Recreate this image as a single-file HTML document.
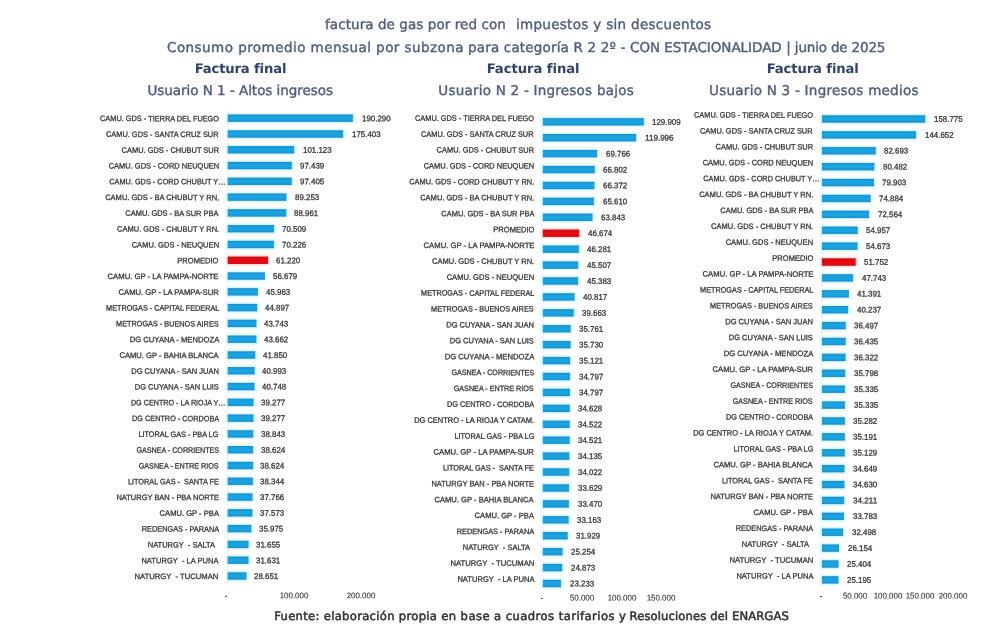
<!DOCTYPE html>
<html lang="es">
<head>
<meta charset="utf-8">
<title>factura de gas por red con impuestos y sin descuentos</title>
<style>
html,body{margin:0;padding:0;background:#fff;}
body{text-rendering:geometricPrecision;width:992px;height:635px;position:relative;overflow:hidden;font-family:"Liberation Sans",sans-serif;}
.t{filter:blur(0.4px);position:absolute;white-space:nowrap;line-height:16px;height:16px;font-family:"DejaVu Sans","Liberation Sans",sans-serif;}
.t span{position:absolute;top:0;}
.h{color:#525d7e;-webkit-text-stroke:0.4px #525d7e;}
.hb{color:#31426c;font-weight:bold;}
.ft{color:#303030;-webkit-text-stroke:0.5px #303030;}
.l{position:absolute;white-space:pre;line-height:10px;height:10px;font-size:7.8px;color:#383838;-webkit-text-stroke:0.3px #383838;text-align:right;transform-origin:100% 50%;}
.v{position:absolute;white-space:pre;line-height:10px;height:10px;font-size:8.2px;color:#383838;-webkit-text-stroke:0.3px #383838;transform-origin:0 50%;}
.a{position:absolute;white-space:pre;line-height:10px;height:10px;font-size:8.2px;color:#383838;-webkit-text-stroke:0.1px #2a2a2a;width:60px;margin-left:-30px;text-align:center;}
.ax{position:absolute;width:1px;background:#f0f7fa;}
.blur{filter:blur(0.45px);}
</style>
</head>
<body>
<div class="t h" id="t1" style="left:0;top:16.7px;font-size:13.5px"><span style="left:325.0px;letter-spacing:0.07px">factura de gas por red con</span> <span style="left:515.9px;letter-spacing:0.31px">impuestos y sin descuentos</span></div>
<div class="t h" id="t2" style="left:0;top:39.7px;font-size:13.5px"><span style="left:167.0px;letter-spacing:0.45px">Consumo promedio mensual por subzona</span> <span style="left:468.0px;letter-spacing:0.17px">para categoría R 2 2º -</span> <span style="left:630.0px;letter-spacing:-0.04px">CON ESTACIONALIDAD</span> <span style="left:786.3px;letter-spacing:-0.17px">| junio de 2025</span></div>
<div class="t hb" id="f1" style="left:0;top:61.5px;font-size:13.2px"><span style="left:194.7px;letter-spacing:-0.16px">Factura final</span></div>
<div class="t hb" id="f2" style="left:0;top:61.5px;font-size:13.2px"><span style="left:486.7px;letter-spacing:-0.07px">Factura final</span></div>
<div class="t hb" id="f3" style="left:0;top:61.5px;font-size:13.2px"><span style="left:766.7px;letter-spacing:-0.13px">Factura final</span></div>
<div class="t h" id="u1" style="left:0;top:83.0px;font-size:13.5px"><span style="left:147.5px;letter-spacing:-0.04px">Usuario N 1 - Altos ingresos</span></div>
<div class="t h" id="u2" style="left:0;top:83.0px;font-size:13.5px"><span style="left:438.3px;letter-spacing:0.23px">Usuario N 2 - Ingresos bajos</span></div>
<div class="t h" id="u3" style="left:0;top:83.0px;font-size:13.5px"><span style="left:709.1px;letter-spacing:0.25px">Usuario N 3 - Ingresos medios</span></div>
<div class="t ft" id="ft" style="left:0;top:608.3px;font-size:11.6px"><span style="left:274.2px;letter-spacing:0.30px">Fuente: elaboración propia en</span> <span style="left:460.6px;letter-spacing:0.43px">base a cuadros tarifarios y</span> <span style="left:629.6px;letter-spacing:0.10px">Resoluciones del ENARGAS</span></div>
<div class="blur">
<div class="ax" style="left:226.5px;top:110.3px;height:473.6px"></div>
<div class="l" style="right:773.2px;top:114px;transform:translateY(0.25px) rotate(0.1deg) scaleX(0.9442)">CAMU. GDS - TIERRA DEL FUEGO</div><div class="v" style="left:362.1px;top:114px;transform:translateY(0.15px) rotate(0.1deg) scaleX(0.9669)">190.290</div>
<div class="l" style="right:773.2px;top:130px;transform:translateY(0.04px) rotate(0.1deg) scaleX(0.9498)">CAMU. GDS - SANTA CRUZ SUR</div><div class="v" style="left:352.3px;top:129px;transform:translateY(0.94px) rotate(0.1deg) scaleX(0.9669)">175.403</div>
<div class="l" style="right:773.2px;top:145px;transform:translateY(0.82px) rotate(0.1deg) scaleX(0.9548)">CAMU. GDS - CHUBUT SUR</div><div class="v" style="left:303.4px;top:145px;transform:translateY(0.72px) rotate(0.1deg) scaleX(0.9669)">101.123</div>
<div class="l" style="right:773.2px;top:161px;transform:translateY(0.61px) rotate(0.1deg) scaleX(0.9595)">CAMU. GDS - CORD NEUQUEN</div><div class="v" style="left:300.0px;top:161px;transform:translateY(0.51px) rotate(0.1deg) scaleX(0.9665)">97.439</div>
<div class="l" style="right:766.9px;top:177px;transform:translateY(0.39px) rotate(0.1deg) scaleX(0.9416)">CAMU. GDS - CORD CHUBUT Y…</div><div class="v" style="left:299.9px;top:177px;transform:translateY(0.29px) rotate(0.1deg) scaleX(0.9665)">97.405</div>
<div class="l" style="right:773.2px;top:193px;transform:translateY(0.18px) rotate(0.1deg) scaleX(0.9648)">CAMU. GDS - BA CHUBUT Y RN.</div><div class="v" style="left:294.5px;top:193px;transform:translateY(0.08px) rotate(0.1deg) scaleX(0.9665)">89.253</div>
<div class="l" style="right:773.2px;top:208px;transform:translateY(0.97px) rotate(0.1deg) scaleX(0.9556)">CAMU. GDS - BA SUR PBA</div><div class="v" style="left:294.3px;top:208px;transform:translateY(0.87px) rotate(0.1deg) scaleX(0.9665)">88.961</div>
<div class="l" style="right:773.2px;top:224px;transform:translateY(0.75px) rotate(0.1deg) scaleX(0.9614)">CAMU. GDS - CHUBUT Y RN.</div><div class="v" style="left:282.1px;top:224px;transform:translateY(0.65px) rotate(0.1deg) scaleX(0.9665)">70.509</div>
<div class="l" style="right:773.2px;top:240px;transform:translateY(0.54px) rotate(0.1deg) scaleX(0.9708)">CAMU. GDS - NEUQUEN</div><div class="v" style="left:281.8px;top:240px;transform:translateY(0.44px) rotate(0.1deg) scaleX(0.9665)">70.226</div>
<div class="l" style="right:773.2px;top:256px;transform:translateY(0.33px) rotate(0.1deg) scaleX(0.9686)">PROMEDIO</div><div class="v" style="left:275.9px;top:256px;transform:translateY(0.23px) rotate(0.1deg) scaleX(0.9665)">61.220</div>
<div class="l" style="right:773.2px;top:272px;transform:translateY(0.11px) rotate(0.1deg) scaleX(0.9861)">CAMU. GP - LA PAMPA-NORTE</div><div class="v" style="left:272.8px;top:272px;transform:translateY(0.01px) rotate(0.1deg) scaleX(0.9665)">56.679</div>
<div class="l" style="right:773.2px;top:287px;transform:translateY(0.90px) rotate(0.1deg) scaleX(0.9857)">CAMU. GP - LA PAMPA-SUR</div><div class="v" style="left:265.7px;top:287px;transform:translateY(0.80px) rotate(0.1deg) scaleX(0.9665)">45.963</div>
<div class="l" style="right:773.2px;top:303px;transform:translateY(0.68px) rotate(0.1deg) scaleX(0.9332)">METROGAS - CAPITAL FEDERAL</div><div class="v" style="left:265.0px;top:303px;transform:translateY(0.58px) rotate(0.1deg) scaleX(0.9665)">44.897</div>
<div class="l" style="right:773.2px;top:319px;transform:translateY(0.47px) rotate(0.1deg) scaleX(0.935)">METROGAS - BUENOS AIRES</div><div class="v" style="left:264.2px;top:319px;transform:translateY(0.37px) rotate(0.1deg) scaleX(0.9665)">43.743</div>
<div class="l" style="right:773.2px;top:335px;transform:translateY(0.26px) rotate(0.1deg) scaleX(0.9815)">DG CUYANA - MENDOZA</div><div class="v" style="left:264.1px;top:335px;transform:translateY(0.16px) rotate(0.1deg) scaleX(0.9665)">43.662</div>
<div class="l" style="right:773.2px;top:351px;transform:translateY(0.04px) rotate(0.1deg) scaleX(0.9765)">CAMU. GP - BAHIA BLANCA</div><div class="v" style="left:262.9px;top:350px;transform:translateY(0.94px) rotate(0.1deg) scaleX(0.9665)">41.850</div>
<div class="l" style="right:773.2px;top:366px;transform:translateY(0.83px) rotate(0.1deg) scaleX(0.9645)">DG CUYANA - SAN JUAN</div><div class="v" style="left:262.3px;top:366px;transform:translateY(0.73px) rotate(0.1deg) scaleX(0.9665)">40.993</div>
<div class="l" style="right:773.2px;top:382px;transform:translateY(0.62px) rotate(0.1deg) scaleX(0.9559)">DG CUYANA - SAN LUIS</div><div class="v" style="left:262.0px;top:382px;transform:translateY(0.52px) rotate(0.1deg) scaleX(0.9665)">40.748</div>
<div class="l" style="right:766.9px;top:398px;transform:translateY(0.40px) rotate(0.1deg) scaleX(0.9228)">DG CENTRO - LA RIOJA Y…</div><div class="v" style="left:261.0px;top:398px;transform:translateY(0.30px) rotate(0.1deg) scaleX(0.9665)">39.277</div>
<div class="l" style="right:773.2px;top:414px;transform:translateY(0.19px) rotate(0.1deg) scaleX(0.9348)">DG CENTRO - CORDOBA</div><div class="v" style="left:261.0px;top:414px;transform:translateY(0.09px) rotate(0.1deg) scaleX(0.9665)">39.277</div>
<div class="l" style="right:773.2px;top:429px;transform:translateY(0.97px) rotate(0.1deg) scaleX(0.9365)">LITORAL GAS - PBA LG</div><div class="v" style="left:260.7px;top:429px;transform:translateY(0.87px) rotate(0.1deg) scaleX(0.9665)">38.843</div>
<div class="l" style="right:773.2px;top:445px;transform:translateY(0.76px) rotate(0.1deg) scaleX(0.9178)">GASNEA - CORRIENTES</div><div class="v" style="left:260.5px;top:445px;transform:translateY(0.66px) rotate(0.1deg) scaleX(0.9665)">38.624</div>
<div class="l" style="right:773.2px;top:461px;transform:translateY(0.55px) rotate(0.1deg) scaleX(0.9228)">GASNEA - ENTRE RIOS</div><div class="v" style="left:260.4px;top:461px;transform:translateY(0.45px) rotate(0.1deg) scaleX(0.9665)">38.624</div>
<div class="l" style="right:773.2px;top:477px;transform:translateY(0.33px) rotate(0.1deg) scaleX(0.9388)">LITORAL GAS -  SANTA FE</div><div class="v" style="left:260.2px;top:477px;transform:translateY(0.23px) rotate(0.1deg) scaleX(0.9665)">38.344</div>
<div class="l" style="right:773.2px;top:493px;transform:translateY(0.12px) rotate(0.1deg) scaleX(0.9583)">NATURGY BAN - PBA NORTE</div><div class="v" style="left:259.8px;top:493px;transform:translateY(0.02px) rotate(0.1deg) scaleX(0.9665)">37.766</div>
<div class="l" style="right:773.2px;top:508px;transform:translateY(0.91px) rotate(0.1deg) scaleX(0.9738)">CAMU. GP - PBA</div><div class="v" style="left:259.6px;top:508px;transform:translateY(0.81px) rotate(0.1deg) scaleX(0.9665)">37.573</div>
<div class="l" style="right:773.2px;top:524px;transform:translateY(0.69px) rotate(0.1deg) scaleX(0.942)">REDENGAS - PARANA</div><div class="v" style="left:258.5px;top:524px;transform:translateY(0.59px) rotate(0.1deg) scaleX(0.9665)">35.975</div>
<div class="l" style="right:777.0px;top:540px;transform:translateY(0.48px) rotate(0.1deg) scaleX(0.9612)">NATURGY  - SALTA</div><div class="v" style="left:255.6px;top:540px;transform:translateY(0.38px) rotate(0.1deg) scaleX(0.9665)">31.655</div>
<div class="l" style="right:773.2px;top:556px;transform:translateY(0.26px) rotate(0.1deg) scaleX(0.9696)">NATURGY  - LA PUNA</div><div class="v" style="left:255.6px;top:556px;transform:translateY(0.16px) rotate(0.1deg) scaleX(0.9665)">31.631</div>
<div class="l" style="right:773.2px;top:572px;transform:translateY(0.05px) rotate(0.1deg) scaleX(0.9838)">NATURGY  - TUCUMAN</div><div class="v" style="left:253.6px;top:571px;transform:translateY(0.95px) rotate(0.1deg) scaleX(0.9665)">28.651</div>
<div class="a" style="left:226.0px;top:591px;transform:translateY(0.25px) rotate(0.1deg) scaleX(1.0501)">-</div>
<div class="a" style="left:294.0px;top:591px;transform:translateY(0.25px) rotate(0.1deg) scaleX(0.9669)">100.000</div>
<div class="a" style="left:360.5px;top:591px;transform:translateY(0.25px) rotate(0.1deg) scaleX(0.9669)">200.000</div>
<div class="ax" style="left:541.7px;top:113.8px;height:477.6px"></div>
<div class="l" style="right:458.0px;top:113px;transform:translateY(0.95px) rotate(0.1deg) scaleX(0.9442)">CAMU. GDS - TIERRA DEL FUEGO</div><div class="v" style="left:652.4px;top:117px;transform:translateY(0.65px) rotate(0.1deg) scaleX(0.9669)">129.909</div>
<div class="l" style="right:458.0px;top:129px;transform:translateY(0.84px) rotate(0.1deg) scaleX(0.9498)">CAMU. GDS - SANTA CRUZ SUR</div><div class="v" style="left:644.7px;top:133px;transform:translateY(0.57px) rotate(0.1deg) scaleX(0.9872)">119.996</div>
<div class="l" style="right:458.0px;top:145px;transform:translateY(0.73px) rotate(0.1deg) scaleX(0.9548)">CAMU. GDS - CHUBUT SUR</div><div class="v" style="left:605.7px;top:149px;transform:translateY(0.49px) rotate(0.1deg) scaleX(0.9665)">69.766</div>
<div class="l" style="right:458.0px;top:161px;transform:translateY(0.62px) rotate(0.1deg) scaleX(0.9595)">CAMU. GDS - CORD NEUQUEN</div><div class="v" style="left:603.4px;top:165px;transform:translateY(0.41px) rotate(0.1deg) scaleX(0.9665)">66.802</div>
<div class="l" style="right:458.0px;top:177px;transform:translateY(0.51px) rotate(0.1deg) scaleX(0.9533)">CAMU. GDS - CORD CHUBUT Y RN.</div><div class="v" style="left:603.1px;top:181px;transform:translateY(0.33px) rotate(0.1deg) scaleX(0.9665)">66.372</div>
<div class="l" style="right:458.0px;top:193px;transform:translateY(0.40px) rotate(0.1deg) scaleX(0.9648)">CAMU. GDS - BA CHUBUT Y RN.</div><div class="v" style="left:602.5px;top:197px;transform:translateY(0.25px) rotate(0.1deg) scaleX(0.9665)">65.610</div>
<div class="l" style="right:458.0px;top:209px;transform:translateY(0.29px) rotate(0.1deg) scaleX(0.9556)">CAMU. GDS - BA SUR PBA</div><div class="v" style="left:601.1px;top:213px;transform:translateY(0.17px) rotate(0.1deg) scaleX(0.9665)">63.843</div>
<div class="l" style="right:458.0px;top:225px;transform:translateY(0.18px) rotate(0.1deg) scaleX(0.9686)">PROMEDIO</div><div class="v" style="left:587.8px;top:229px;transform:translateY(0.09px) rotate(0.1deg) scaleX(0.9665)">46.674</div>
<div class="l" style="right:458.0px;top:241px;transform:translateY(0.07px) rotate(0.1deg) scaleX(0.9861)">CAMU. GP - LA PAMPA-NORTE</div><div class="v" style="left:587.4px;top:245px;transform:translateY(0.02px) rotate(0.1deg) scaleX(0.9665)">46.281</div>
<div class="l" style="right:458.0px;top:256px;transform:translateY(0.96px) rotate(0.1deg) scaleX(0.9614)">CAMU. GDS - CHUBUT Y RN.</div><div class="v" style="left:586.8px;top:260px;transform:translateY(0.94px) rotate(0.1deg) scaleX(0.9665)">45.507</div>
<div class="l" style="right:458.0px;top:272px;transform:translateY(0.85px) rotate(0.1deg) scaleX(0.9708)">CAMU. GDS - NEUQUEN</div><div class="v" style="left:586.7px;top:276px;transform:translateY(0.86px) rotate(0.1deg) scaleX(0.9665)">45.383</div>
<div class="l" style="right:458.0px;top:288px;transform:translateY(0.74px) rotate(0.1deg) scaleX(0.9332)">METROGAS - CAPITAL FEDERAL</div><div class="v" style="left:583.2px;top:292px;transform:translateY(0.78px) rotate(0.1deg) scaleX(0.9665)">40.817</div>
<div class="l" style="right:458.0px;top:304px;transform:translateY(0.63px) rotate(0.1deg) scaleX(0.935)">METROGAS - BUENOS AIRES</div><div class="v" style="left:582.3px;top:308px;transform:translateY(0.70px) rotate(0.1deg) scaleX(0.9665)">39.663</div>
<div class="l" style="right:458.0px;top:320px;transform:translateY(0.52px) rotate(0.1deg) scaleX(0.9645)">DG CUYANA - SAN JUAN</div><div class="v" style="left:579.3px;top:324px;transform:translateY(0.62px) rotate(0.1deg) scaleX(0.9665)">35.761</div>
<div class="l" style="right:458.0px;top:336px;transform:translateY(0.41px) rotate(0.1deg) scaleX(0.9559)">DG CUYANA - SAN LUIS</div><div class="v" style="left:579.3px;top:340px;transform:translateY(0.54px) rotate(0.1deg) scaleX(0.9665)">35.730</div>
<div class="l" style="right:458.0px;top:352px;transform:translateY(0.29px) rotate(0.1deg) scaleX(0.9815)">DG CUYANA - MENDOZA</div><div class="v" style="left:578.8px;top:356px;transform:translateY(0.46px) rotate(0.1deg) scaleX(0.9665)">35.121</div>
<div class="l" style="right:458.0px;top:368px;transform:translateY(0.18px) rotate(0.1deg) scaleX(0.9178)">GASNEA - CORRIENTES</div><div class="v" style="left:578.5px;top:372px;transform:translateY(0.38px) rotate(0.1deg) scaleX(0.9665)">34.797</div>
<div class="l" style="right:458.0px;top:384px;transform:translateY(0.07px) rotate(0.1deg) scaleX(0.9228)">GASNEA - ENTRE RIOS</div><div class="v" style="left:578.5px;top:388px;transform:translateY(0.30px) rotate(0.1deg) scaleX(0.9665)">34.797</div>
<div class="l" style="right:458.0px;top:399px;transform:translateY(0.96px) rotate(0.1deg) scaleX(0.9348)">DG CENTRO - CORDOBA</div><div class="v" style="left:578.4px;top:404px;transform:translateY(0.22px) rotate(0.1deg) scaleX(0.9665)">34.628</div>
<div class="l" style="right:458.0px;top:415px;transform:translateY(0.85px) rotate(0.1deg) scaleX(0.9585)">DG CENTRO - LA RIOJA Y CATAM.</div><div class="v" style="left:578.3px;top:420px;transform:translateY(0.14px) rotate(0.1deg) scaleX(0.9665)">34.522</div>
<div class="l" style="right:458.0px;top:431px;transform:translateY(0.74px) rotate(0.1deg) scaleX(0.9365)">LITORAL GAS - PBA LG</div><div class="v" style="left:578.3px;top:436px;transform:translateY(0.06px) rotate(0.1deg) scaleX(0.9665)">34.521</div>
<div class="l" style="right:458.0px;top:447px;transform:translateY(0.63px) rotate(0.1deg) scaleX(0.9857)">CAMU. GP - LA PAMPA-SUR</div><div class="v" style="left:578.0px;top:451px;transform:translateY(0.98px) rotate(0.1deg) scaleX(0.9665)">34.135</div>
<div class="l" style="right:458.0px;top:463px;transform:translateY(0.52px) rotate(0.1deg) scaleX(0.9388)">LITORAL GAS -  SANTA FE</div><div class="v" style="left:577.9px;top:467px;transform:translateY(0.91px) rotate(0.1deg) scaleX(0.9665)">34.022</div>
<div class="l" style="right:458.0px;top:479px;transform:translateY(0.41px) rotate(0.1deg) scaleX(0.9583)">NATURGY BAN - PBA NORTE</div><div class="v" style="left:577.6px;top:483px;transform:translateY(0.83px) rotate(0.1deg) scaleX(0.9665)">33.629</div>
<div class="l" style="right:458.0px;top:495px;transform:translateY(0.30px) rotate(0.1deg) scaleX(0.9765)">CAMU. GP - BAHIA BLANCA</div><div class="v" style="left:577.5px;top:499px;transform:translateY(0.75px) rotate(0.1deg) scaleX(0.9665)">33.470</div>
<div class="l" style="right:458.0px;top:511px;transform:translateY(0.19px) rotate(0.1deg) scaleX(0.9738)">CAMU. GP - PBA</div><div class="v" style="left:577.3px;top:515px;transform:translateY(0.67px) rotate(0.1deg) scaleX(0.9665)">33.163</div>
<div class="l" style="right:458.0px;top:527px;transform:translateY(0.08px) rotate(0.1deg) scaleX(0.942)">REDENGAS - PARANA</div><div class="v" style="left:576.3px;top:531px;transform:translateY(0.59px) rotate(0.1deg) scaleX(0.9665)">31.929</div>
<div class="l" style="right:461.8px;top:542px;transform:translateY(0.97px) rotate(0.1deg) scaleX(0.9612)">NATURGY  - SALTA</div><div class="v" style="left:571.1px;top:547px;transform:translateY(0.51px) rotate(0.1deg) scaleX(0.9665)">25.254</div>
<div class="l" style="right:458.0px;top:558px;transform:translateY(0.86px) rotate(0.1deg) scaleX(0.9838)">NATURGY  - TUCUMAN</div><div class="v" style="left:570.8px;top:563px;transform:translateY(0.43px) rotate(0.1deg) scaleX(0.9665)">24.873</div>
<div class="l" style="right:458.0px;top:574px;transform:translateY(0.75px) rotate(0.1deg) scaleX(0.9696)">NATURGY  - LA PUNA</div><div class="v" style="left:569.5px;top:579px;transform:translateY(0.35px) rotate(0.1deg) scaleX(0.9665)">23.233</div>
<div class="a" style="left:542.0px;top:593px;transform:translateY(0.45px) rotate(0.1deg) scaleX(1.0501)">-</div>
<div class="a" style="left:582.0px;top:593px;transform:translateY(0.45px) rotate(0.1deg) scaleX(0.9665)">50.000</div>
<div class="a" style="left:621.5px;top:593px;transform:translateY(0.45px) rotate(0.1deg) scaleX(0.9669)">100.000</div>
<div class="a" style="left:660.8px;top:593px;transform:translateY(0.45px) rotate(0.1deg) scaleX(0.9669)">150.000</div>
<div class="ax" style="left:820.8px;top:111.1px;height:476.8px"></div>
<div class="l" style="right:179.0px;top:110px;transform:translateY(0.75px) rotate(0.1deg) scaleX(0.9442)">CAMU. GDS - TIERRA DEL FUEGO</div><div class="v" style="left:934.3px;top:114px;transform:translateY(0.75px) rotate(0.1deg) scaleX(0.9669)">158.775</div>
<div class="l" style="right:179.0px;top:126px;transform:translateY(0.64px) rotate(0.1deg) scaleX(0.9498)">CAMU. GDS - SANTA CRUZ SUR</div><div class="v" style="left:925.1px;top:130px;transform:translateY(0.64px) rotate(0.1deg) scaleX(0.9669)">144.652</div>
<div class="l" style="right:179.0px;top:142px;transform:translateY(0.54px) rotate(0.1deg) scaleX(0.9548)">CAMU. GDS - CHUBUT SUR</div><div class="v" style="left:884.2px;top:146px;transform:translateY(0.54px) rotate(0.1deg) scaleX(0.9665)">82.693</div>
<div class="l" style="right:179.0px;top:158px;transform:translateY(0.43px) rotate(0.1deg) scaleX(0.9595)">CAMU. GDS - CORD NEUQUEN</div><div class="v" style="left:882.8px;top:162px;transform:translateY(0.43px) rotate(0.1deg) scaleX(0.9665)">80.482</div>
<div class="l" style="right:172.7px;top:174px;transform:translateY(0.32px) rotate(0.1deg) scaleX(0.9416)">CAMU. GDS - CORD CHUBUT Y…</div><div class="v" style="left:882.4px;top:178px;transform:translateY(0.32px) rotate(0.1deg) scaleX(0.9665)">79.903</div>
<div class="l" style="right:179.0px;top:190px;transform:translateY(0.22px) rotate(0.1deg) scaleX(0.9648)">CAMU. GDS - BA CHUBUT Y RN.</div><div class="v" style="left:879.2px;top:194px;transform:translateY(0.22px) rotate(0.1deg) scaleX(0.9665)">74.884</div>
<div class="l" style="right:179.0px;top:206px;transform:translateY(0.11px) rotate(0.1deg) scaleX(0.9556)">CAMU. GDS - BA SUR PBA</div><div class="v" style="left:877.7px;top:210px;transform:translateY(0.11px) rotate(0.1deg) scaleX(0.9665)">72.564</div>
<div class="l" style="right:179.0px;top:222px;transform:translateY(0.00px) rotate(0.1deg) scaleX(0.9614)">CAMU. GDS - CHUBUT Y RN.</div><div class="v" style="left:866.2px;top:226px;transform:translateY(0.00px) rotate(0.1deg) scaleX(0.9665)">54.957</div>
<div class="l" style="right:179.0px;top:237px;transform:translateY(0.89px) rotate(0.1deg) scaleX(0.9708)">CAMU. GDS - NEUQUEN</div><div class="v" style="left:866.0px;top:241px;transform:translateY(0.89px) rotate(0.1deg) scaleX(0.9665)">54.673</div>
<div class="l" style="right:179.0px;top:253px;transform:translateY(0.79px) rotate(0.1deg) scaleX(0.9686)">PROMEDIO</div><div class="v" style="left:864.1px;top:257px;transform:translateY(0.79px) rotate(0.1deg) scaleX(0.9665)">51.752</div>
<div class="l" style="right:179.0px;top:269px;transform:translateY(0.68px) rotate(0.1deg) scaleX(0.9861)">CAMU. GP - LA PAMPA-NORTE</div><div class="v" style="left:861.5px;top:273px;transform:translateY(0.68px) rotate(0.1deg) scaleX(0.9665)">47.743</div>
<div class="l" style="right:179.0px;top:285px;transform:translateY(0.57px) rotate(0.1deg) scaleX(0.9332)">METROGAS - CAPITAL FEDERAL</div><div class="v" style="left:857.4px;top:289px;transform:translateY(0.57px) rotate(0.1deg) scaleX(0.9665)">41.391</div>
<div class="l" style="right:179.0px;top:301px;transform:translateY(0.47px) rotate(0.1deg) scaleX(0.935)">METROGAS - BUENOS AIRES</div><div class="v" style="left:856.7px;top:305px;transform:translateY(0.47px) rotate(0.1deg) scaleX(0.9665)">40.237</div>
<div class="l" style="right:179.0px;top:317px;transform:translateY(0.36px) rotate(0.1deg) scaleX(0.9645)">DG CUYANA - SAN JUAN</div><div class="v" style="left:854.2px;top:321px;transform:translateY(0.36px) rotate(0.1deg) scaleX(0.9665)">36.497</div>
<div class="l" style="right:179.0px;top:333px;transform:translateY(0.25px) rotate(0.1deg) scaleX(0.9559)">DG CUYANA - SAN LUIS</div><div class="v" style="left:854.2px;top:337px;transform:translateY(0.25px) rotate(0.1deg) scaleX(0.9665)">36.435</div>
<div class="l" style="right:179.0px;top:349px;transform:translateY(0.15px) rotate(0.1deg) scaleX(0.9815)">DG CUYANA - MENDOZA</div><div class="v" style="left:854.1px;top:353px;transform:translateY(0.15px) rotate(0.1deg) scaleX(0.9665)">36.322</div>
<div class="l" style="right:179.0px;top:365px;transform:translateY(0.04px) rotate(0.1deg) scaleX(0.9857)">CAMU. GP - LA PAMPA-SUR</div><div class="v" style="left:853.8px;top:369px;transform:translateY(0.04px) rotate(0.1deg) scaleX(0.9665)">35.798</div>
<div class="l" style="right:179.0px;top:380px;transform:translateY(0.93px) rotate(0.1deg) scaleX(0.9178)">GASNEA - CORRIENTES</div><div class="v" style="left:853.5px;top:384px;transform:translateY(0.93px) rotate(0.1deg) scaleX(0.9665)">35.335</div>
<div class="l" style="right:179.0px;top:396px;transform:translateY(0.83px) rotate(0.1deg) scaleX(0.9228)">GASNEA - ENTRE RIOS</div><div class="v" style="left:853.5px;top:400px;transform:translateY(0.83px) rotate(0.1deg) scaleX(0.9665)">35.335</div>
<div class="l" style="right:179.0px;top:412px;transform:translateY(0.72px) rotate(0.1deg) scaleX(0.9348)">DG CENTRO - CORDOBA</div><div class="v" style="left:853.4px;top:416px;transform:translateY(0.72px) rotate(0.1deg) scaleX(0.9665)">35.282</div>
<div class="l" style="right:179.0px;top:428px;transform:translateY(0.61px) rotate(0.1deg) scaleX(0.9585)">DG CENTRO - LA RIOJA Y CATAM.</div><div class="v" style="left:853.4px;top:432px;transform:translateY(0.61px) rotate(0.1deg) scaleX(0.9665)">35.191</div>
<div class="l" style="right:179.0px;top:444px;transform:translateY(0.51px) rotate(0.1deg) scaleX(0.9365)">LITORAL GAS - PBA LG</div><div class="v" style="left:853.3px;top:448px;transform:translateY(0.51px) rotate(0.1deg) scaleX(0.9665)">35.129</div>
<div class="l" style="right:179.0px;top:460px;transform:translateY(0.40px) rotate(0.1deg) scaleX(0.9765)">CAMU. GP - BAHIA BLANCA</div><div class="v" style="left:853.0px;top:464px;transform:translateY(0.40px) rotate(0.1deg) scaleX(0.9665)">34.649</div>
<div class="l" style="right:179.0px;top:476px;transform:translateY(0.29px) rotate(0.1deg) scaleX(0.9388)">LITORAL GAS -  SANTA FE</div><div class="v" style="left:853.0px;top:480px;transform:translateY(0.29px) rotate(0.1deg) scaleX(0.9665)">34.630</div>
<div class="l" style="right:179.0px;top:492px;transform:translateY(0.18px) rotate(0.1deg) scaleX(0.9583)">NATURGY BAN - PBA NORTE</div><div class="v" style="left:852.7px;top:496px;transform:translateY(0.18px) rotate(0.1deg) scaleX(0.9905)">34.211</div>
<div class="l" style="right:179.0px;top:508px;transform:translateY(0.08px) rotate(0.1deg) scaleX(0.9738)">CAMU. GP - PBA</div><div class="v" style="left:852.5px;top:512px;transform:translateY(0.08px) rotate(0.1deg) scaleX(0.9665)">33.783</div>
<div class="l" style="right:179.0px;top:523px;transform:translateY(0.97px) rotate(0.1deg) scaleX(0.942)">REDENGAS - PARANA</div><div class="v" style="left:851.6px;top:527px;transform:translateY(0.97px) rotate(0.1deg) scaleX(0.9665)">32.498</div>
<div class="l" style="right:182.8px;top:539px;transform:translateY(0.86px) rotate(0.1deg) scaleX(0.9612)">NATURGY  - SALTA</div><div class="v" style="left:847.5px;top:543px;transform:translateY(0.86px) rotate(0.1deg) scaleX(0.9665)">26.154</div>
<div class="l" style="right:179.0px;top:555px;transform:translateY(0.76px) rotate(0.1deg) scaleX(0.9838)">NATURGY  - TUCUMAN</div><div class="v" style="left:847.0px;top:559px;transform:translateY(0.76px) rotate(0.1deg) scaleX(0.9665)">25.404</div>
<div class="l" style="right:179.0px;top:571px;transform:translateY(0.65px) rotate(0.1deg) scaleX(0.9696)">NATURGY  - LA PUNA</div><div class="v" style="left:846.9px;top:575px;transform:translateY(0.65px) rotate(0.1deg) scaleX(0.9665)">25.195</div>
<div class="a" style="left:821.0px;top:591px;transform:translateY(0.55px) rotate(0.1deg) scaleX(1.0501)">-</div>
<div class="a" style="left:855.2px;top:591px;transform:translateY(0.55px) rotate(0.1deg) scaleX(0.9665)">50.000</div>
<div class="a" style="left:888.0px;top:591px;transform:translateY(0.55px) rotate(0.1deg) scaleX(0.9669)">100.000</div>
<div class="a" style="left:920.4px;top:591px;transform:translateY(0.55px) rotate(0.1deg) scaleX(0.9669)">150.000</div>
<div class="a" style="left:952.6px;top:591px;transform:translateY(0.55px) rotate(0.1deg) scaleX(0.9669)">200.000</div>
<svg width="992" height="635" viewBox="0 0 992 635" style="position:absolute;left:0;top:0"><defs><linearGradient id="gb" x1="0" y1="0" x2="0" y2="1"><stop offset="0" stop-color="#1d8dc9"/><stop offset=".35" stop-color="#18a4e1"/><stop offset=".65" stop-color="#18a4e1"/><stop offset="1" stop-color="#1d8dc9"/></linearGradient><linearGradient id="gr" x1="0" y1="0" x2="0" y2="1"><stop offset="0" stop-color="#c90f14"/><stop offset=".35" stop-color="#e6090f"/><stop offset=".65" stop-color="#e6090f"/><stop offset="1" stop-color="#cf0e13"/></linearGradient><filter id="halo" x="-5%" y="-5%" width="110%" height="110%"><feGaussianBlur stdDeviation="1.3"/></filter></defs>
<g filter="url(#halo)" opacity=".65"><rect x="226.50" y="113.30" width="127.60" height="9.80" fill="#a6e8ff"/><rect x="226.50" y="129.09" width="117.81" height="9.80" fill="#a6e8ff"/><rect x="226.50" y="144.87" width="68.93" height="9.80" fill="#a6e8ff"/><rect x="226.50" y="160.66" width="66.51" height="9.80" fill="#a6e8ff"/><rect x="226.50" y="176.44" width="66.49" height="9.80" fill="#a6e8ff"/><rect x="226.50" y="192.23" width="61.12" height="9.80" fill="#a6e8ff"/><rect x="226.50" y="208.02" width="60.93" height="9.80" fill="#a6e8ff"/><rect x="226.50" y="223.80" width="48.79" height="9.80" fill="#a6e8ff"/><rect x="226.50" y="239.59" width="48.60" height="9.80" fill="#a6e8ff"/><rect x="226.50" y="255.38" width="42.68" height="9.80" fill="#ffb0b0"/><rect x="226.50" y="271.16" width="39.69" height="9.80" fill="#a6e8ff"/><rect x="226.50" y="286.95" width="32.64" height="9.80" fill="#a6e8ff"/><rect x="226.50" y="302.73" width="31.94" height="9.80" fill="#a6e8ff"/><rect x="226.50" y="318.52" width="31.18" height="9.80" fill="#a6e8ff"/><rect x="226.50" y="334.31" width="31.13" height="9.80" fill="#a6e8ff"/><rect x="226.50" y="350.09" width="29.93" height="9.80" fill="#a6e8ff"/><rect x="226.50" y="365.88" width="29.37" height="9.80" fill="#a6e8ff"/><rect x="226.50" y="381.67" width="29.21" height="9.80" fill="#a6e8ff"/><rect x="226.50" y="397.45" width="28.24" height="9.80" fill="#a6e8ff"/><rect x="226.50" y="413.24" width="28.24" height="9.80" fill="#a6e8ff"/><rect x="226.50" y="429.02" width="27.96" height="9.80" fill="#a6e8ff"/><rect x="226.50" y="444.81" width="27.81" height="9.80" fill="#a6e8ff"/><rect x="226.50" y="460.60" width="27.81" height="9.80" fill="#a6e8ff"/><rect x="226.50" y="476.38" width="27.63" height="9.80" fill="#a6e8ff"/><rect x="226.50" y="492.17" width="27.25" height="9.80" fill="#a6e8ff"/><rect x="226.50" y="507.96" width="27.12" height="9.80" fill="#a6e8ff"/><rect x="226.50" y="523.74" width="26.07" height="9.80" fill="#a6e8ff"/><rect x="226.50" y="539.53" width="23.23" height="9.80" fill="#a6e8ff"/><rect x="226.50" y="555.31" width="23.21" height="9.80" fill="#a6e8ff"/><rect x="226.50" y="571.10" width="21.25" height="9.80" fill="#a6e8ff"/><rect x="541.70" y="116.90" width="103.30" height="9.80" fill="#a6e8ff"/><rect x="541.70" y="132.82" width="95.60" height="9.80" fill="#a6e8ff"/><rect x="541.70" y="148.74" width="56.59" height="9.80" fill="#a6e8ff"/><rect x="541.70" y="164.66" width="54.28" height="9.80" fill="#a6e8ff"/><rect x="541.70" y="180.58" width="53.95" height="9.80" fill="#a6e8ff"/><rect x="541.70" y="196.50" width="53.36" height="9.80" fill="#a6e8ff"/><rect x="541.70" y="212.42" width="51.99" height="9.80" fill="#a6e8ff"/><rect x="541.70" y="228.34" width="38.65" height="9.80" fill="#ffb0b0"/><rect x="541.70" y="244.27" width="38.35" height="9.80" fill="#a6e8ff"/><rect x="541.70" y="260.19" width="37.75" height="9.80" fill="#a6e8ff"/><rect x="541.70" y="276.11" width="37.65" height="9.80" fill="#a6e8ff"/><rect x="541.70" y="292.03" width="34.10" height="9.80" fill="#a6e8ff"/><rect x="541.70" y="307.95" width="33.21" height="9.80" fill="#a6e8ff"/><rect x="541.70" y="323.87" width="30.18" height="9.80" fill="#a6e8ff"/><rect x="541.70" y="339.79" width="30.15" height="9.80" fill="#a6e8ff"/><rect x="541.70" y="355.71" width="29.68" height="9.80" fill="#a6e8ff"/><rect x="541.70" y="371.63" width="29.43" height="9.80" fill="#a6e8ff"/><rect x="541.70" y="387.55" width="29.43" height="9.80" fill="#a6e8ff"/><rect x="541.70" y="403.47" width="29.30" height="9.80" fill="#a6e8ff"/><rect x="541.70" y="419.39" width="29.21" height="9.80" fill="#a6e8ff"/><rect x="541.70" y="435.31" width="29.21" height="9.80" fill="#a6e8ff"/><rect x="541.70" y="451.23" width="28.91" height="9.80" fill="#a6e8ff"/><rect x="541.70" y="467.16" width="28.82" height="9.80" fill="#a6e8ff"/><rect x="541.70" y="483.08" width="28.52" height="9.80" fill="#a6e8ff"/><rect x="541.70" y="499.00" width="28.40" height="9.80" fill="#a6e8ff"/><rect x="541.70" y="514.92" width="28.16" height="9.80" fill="#a6e8ff"/><rect x="541.70" y="530.84" width="27.20" height="9.80" fill="#a6e8ff"/><rect x="541.70" y="546.76" width="22.01" height="9.80" fill="#a6e8ff"/><rect x="541.70" y="562.68" width="21.72" height="9.80" fill="#a6e8ff"/><rect x="541.70" y="578.60" width="20.45" height="9.80" fill="#a6e8ff"/><rect x="820.80" y="114.10" width="105.60" height="9.80" fill="#a6e8ff"/><rect x="820.80" y="129.99" width="96.42" height="9.80" fill="#a6e8ff"/><rect x="820.80" y="145.89" width="56.15" height="9.80" fill="#a6e8ff"/><rect x="820.80" y="161.78" width="54.71" height="9.80" fill="#a6e8ff"/><rect x="820.80" y="177.67" width="54.34" height="9.80" fill="#a6e8ff"/><rect x="820.80" y="193.57" width="51.07" height="9.80" fill="#a6e8ff"/><rect x="820.80" y="209.46" width="49.56" height="9.80" fill="#a6e8ff"/><rect x="820.80" y="225.35" width="38.12" height="9.80" fill="#a6e8ff"/><rect x="820.80" y="241.24" width="37.94" height="9.80" fill="#a6e8ff"/><rect x="820.80" y="257.14" width="36.04" height="9.80" fill="#ffb0b0"/><rect x="820.80" y="273.03" width="33.43" height="9.80" fill="#a6e8ff"/><rect x="820.80" y="288.92" width="29.30" height="9.80" fill="#a6e8ff"/><rect x="820.80" y="304.82" width="28.55" height="9.80" fill="#a6e8ff"/><rect x="820.80" y="320.71" width="26.12" height="9.80" fill="#a6e8ff"/><rect x="820.80" y="336.60" width="26.08" height="9.80" fill="#a6e8ff"/><rect x="820.80" y="352.50" width="26.01" height="9.80" fill="#a6e8ff"/><rect x="820.80" y="368.39" width="25.67" height="9.80" fill="#a6e8ff"/><rect x="820.80" y="384.28" width="25.37" height="9.80" fill="#a6e8ff"/><rect x="820.80" y="400.18" width="25.37" height="9.80" fill="#a6e8ff"/><rect x="820.80" y="416.07" width="25.33" height="9.80" fill="#a6e8ff"/><rect x="820.80" y="431.96" width="25.27" height="9.80" fill="#a6e8ff"/><rect x="820.80" y="447.86" width="25.23" height="9.80" fill="#a6e8ff"/><rect x="820.80" y="463.75" width="24.92" height="9.80" fill="#a6e8ff"/><rect x="820.80" y="479.64" width="24.91" height="9.80" fill="#a6e8ff"/><rect x="820.80" y="495.53" width="24.64" height="9.80" fill="#a6e8ff"/><rect x="820.80" y="511.43" width="24.36" height="9.80" fill="#a6e8ff"/><rect x="820.80" y="527.32" width="23.52" height="9.80" fill="#a6e8ff"/><rect x="820.80" y="543.21" width="19.40" height="9.80" fill="#a6e8ff"/><rect x="820.80" y="559.11" width="18.91" height="9.80" fill="#a6e8ff"/><rect x="820.80" y="575.00" width="18.78" height="9.80" fill="#a6e8ff"/></g>
<g><rect x="227.70" y="114.50" width="125.20" height="7.40" fill="url(#gb)"/>
<rect x="227.70" y="130.29" width="115.41" height="7.40" fill="url(#gb)"/>
<rect x="227.70" y="146.07" width="66.53" height="7.40" fill="url(#gb)"/>
<rect x="227.70" y="161.86" width="64.11" height="7.40" fill="url(#gb)"/>
<rect x="227.70" y="177.64" width="64.09" height="7.40" fill="url(#gb)"/>
<rect x="227.70" y="193.43" width="58.72" height="7.40" fill="url(#gb)"/>
<rect x="227.70" y="209.22" width="58.53" height="7.40" fill="url(#gb)"/>
<rect x="227.70" y="225.00" width="46.39" height="7.40" fill="url(#gb)"/>
<rect x="227.70" y="240.79" width="46.20" height="7.40" fill="url(#gb)"/>
<rect x="227.70" y="256.58" width="40.28" height="7.40" fill="url(#gr)"/>
<rect x="227.70" y="272.36" width="37.29" height="7.40" fill="url(#gb)"/>
<rect x="227.70" y="288.15" width="30.24" height="7.40" fill="url(#gb)"/>
<rect x="227.70" y="303.93" width="29.54" height="7.40" fill="url(#gb)"/>
<rect x="227.70" y="319.72" width="28.78" height="7.40" fill="url(#gb)"/>
<rect x="227.70" y="335.51" width="28.73" height="7.40" fill="url(#gb)"/>
<rect x="227.70" y="351.29" width="27.53" height="7.40" fill="url(#gb)"/>
<rect x="227.70" y="367.08" width="26.97" height="7.40" fill="url(#gb)"/>
<rect x="227.70" y="382.87" width="26.81" height="7.40" fill="url(#gb)"/>
<rect x="227.70" y="398.65" width="25.84" height="7.40" fill="url(#gb)"/>
<rect x="227.70" y="414.44" width="25.84" height="7.40" fill="url(#gb)"/>
<rect x="227.70" y="430.22" width="25.56" height="7.40" fill="url(#gb)"/>
<rect x="227.70" y="446.01" width="25.41" height="7.40" fill="url(#gb)"/>
<rect x="227.70" y="461.80" width="25.41" height="7.40" fill="url(#gb)"/>
<rect x="227.70" y="477.58" width="25.23" height="7.40" fill="url(#gb)"/>
<rect x="227.70" y="493.37" width="24.85" height="7.40" fill="url(#gb)"/>
<rect x="227.70" y="509.16" width="24.72" height="7.40" fill="url(#gb)"/>
<rect x="227.70" y="524.94" width="23.67" height="7.40" fill="url(#gb)"/>
<rect x="227.70" y="540.73" width="20.83" height="7.40" fill="url(#gb)"/>
<rect x="227.70" y="556.51" width="20.81" height="7.40" fill="url(#gb)"/>
<rect x="227.70" y="572.30" width="18.85" height="7.40" fill="url(#gb)"/>
<rect x="542.90" y="118.10" width="100.90" height="7.40" fill="url(#gb)"/>
<rect x="542.90" y="134.02" width="93.20" height="7.40" fill="url(#gb)"/>
<rect x="542.90" y="149.94" width="54.19" height="7.40" fill="url(#gb)"/>
<rect x="542.90" y="165.86" width="51.88" height="7.40" fill="url(#gb)"/>
<rect x="542.90" y="181.78" width="51.55" height="7.40" fill="url(#gb)"/>
<rect x="542.90" y="197.70" width="50.96" height="7.40" fill="url(#gb)"/>
<rect x="542.90" y="213.62" width="49.59" height="7.40" fill="url(#gb)"/>
<rect x="542.90" y="229.54" width="36.25" height="7.40" fill="url(#gr)"/>
<rect x="542.90" y="245.47" width="35.95" height="7.40" fill="url(#gb)"/>
<rect x="542.90" y="261.39" width="35.35" height="7.40" fill="url(#gb)"/>
<rect x="542.90" y="277.31" width="35.25" height="7.40" fill="url(#gb)"/>
<rect x="542.90" y="293.23" width="31.70" height="7.40" fill="url(#gb)"/>
<rect x="542.90" y="309.15" width="30.81" height="7.40" fill="url(#gb)"/>
<rect x="542.90" y="325.07" width="27.78" height="7.40" fill="url(#gb)"/>
<rect x="542.90" y="340.99" width="27.75" height="7.40" fill="url(#gb)"/>
<rect x="542.90" y="356.91" width="27.28" height="7.40" fill="url(#gb)"/>
<rect x="542.90" y="372.83" width="27.03" height="7.40" fill="url(#gb)"/>
<rect x="542.90" y="388.75" width="27.03" height="7.40" fill="url(#gb)"/>
<rect x="542.90" y="404.67" width="26.90" height="7.40" fill="url(#gb)"/>
<rect x="542.90" y="420.59" width="26.81" height="7.40" fill="url(#gb)"/>
<rect x="542.90" y="436.51" width="26.81" height="7.40" fill="url(#gb)"/>
<rect x="542.90" y="452.43" width="26.51" height="7.40" fill="url(#gb)"/>
<rect x="542.90" y="468.36" width="26.42" height="7.40" fill="url(#gb)"/>
<rect x="542.90" y="484.28" width="26.12" height="7.40" fill="url(#gb)"/>
<rect x="542.90" y="500.20" width="26.00" height="7.40" fill="url(#gb)"/>
<rect x="542.90" y="516.12" width="25.76" height="7.40" fill="url(#gb)"/>
<rect x="542.90" y="532.04" width="24.80" height="7.40" fill="url(#gb)"/>
<rect x="542.90" y="547.96" width="19.61" height="7.40" fill="url(#gb)"/>
<rect x="542.90" y="563.88" width="19.32" height="7.40" fill="url(#gb)"/>
<rect x="542.90" y="579.80" width="18.05" height="7.40" fill="url(#gb)"/>
<rect x="822.00" y="115.30" width="103.20" height="7.40" fill="url(#gb)"/>
<rect x="822.00" y="131.19" width="94.02" height="7.40" fill="url(#gb)"/>
<rect x="822.00" y="147.09" width="53.75" height="7.40" fill="url(#gb)"/>
<rect x="822.00" y="162.98" width="52.31" height="7.40" fill="url(#gb)"/>
<rect x="822.00" y="178.87" width="51.94" height="7.40" fill="url(#gb)"/>
<rect x="822.00" y="194.77" width="48.67" height="7.40" fill="url(#gb)"/>
<rect x="822.00" y="210.66" width="47.16" height="7.40" fill="url(#gb)"/>
<rect x="822.00" y="226.55" width="35.72" height="7.40" fill="url(#gb)"/>
<rect x="822.00" y="242.44" width="35.54" height="7.40" fill="url(#gb)"/>
<rect x="822.00" y="258.34" width="33.64" height="7.40" fill="url(#gr)"/>
<rect x="822.00" y="274.23" width="31.03" height="7.40" fill="url(#gb)"/>
<rect x="822.00" y="290.12" width="26.90" height="7.40" fill="url(#gb)"/>
<rect x="822.00" y="306.02" width="26.15" height="7.40" fill="url(#gb)"/>
<rect x="822.00" y="321.91" width="23.72" height="7.40" fill="url(#gb)"/>
<rect x="822.00" y="337.80" width="23.68" height="7.40" fill="url(#gb)"/>
<rect x="822.00" y="353.70" width="23.61" height="7.40" fill="url(#gb)"/>
<rect x="822.00" y="369.59" width="23.27" height="7.40" fill="url(#gb)"/>
<rect x="822.00" y="385.48" width="22.97" height="7.40" fill="url(#gb)"/>
<rect x="822.00" y="401.38" width="22.97" height="7.40" fill="url(#gb)"/>
<rect x="822.00" y="417.27" width="22.93" height="7.40" fill="url(#gb)"/>
<rect x="822.00" y="433.16" width="22.87" height="7.40" fill="url(#gb)"/>
<rect x="822.00" y="449.06" width="22.83" height="7.40" fill="url(#gb)"/>
<rect x="822.00" y="464.95" width="22.52" height="7.40" fill="url(#gb)"/>
<rect x="822.00" y="480.84" width="22.51" height="7.40" fill="url(#gb)"/>
<rect x="822.00" y="496.73" width="22.24" height="7.40" fill="url(#gb)"/>
<rect x="822.00" y="512.63" width="21.96" height="7.40" fill="url(#gb)"/>
<rect x="822.00" y="528.52" width="21.12" height="7.40" fill="url(#gb)"/>
<rect x="822.00" y="544.41" width="17.00" height="7.40" fill="url(#gb)"/>
<rect x="822.00" y="560.31" width="16.51" height="7.40" fill="url(#gb)"/>
<rect x="822.00" y="576.20" width="16.38" height="7.40" fill="url(#gb)"/></g></svg>
</div>
</body>
</html>
